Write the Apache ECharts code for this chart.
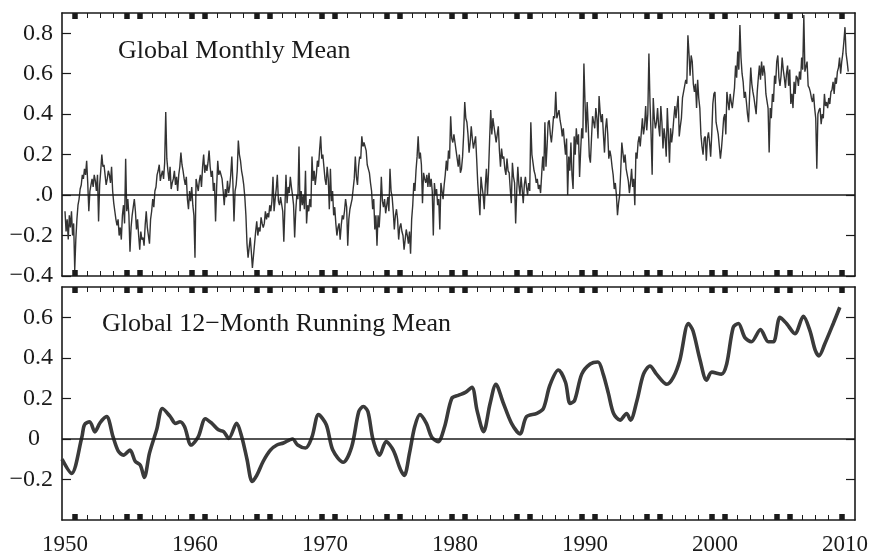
<!DOCTYPE html>
<html>
<head>
<meta charset="utf-8">
<script src="https://cdn.jsdelivr.net/npm/echarts@6/dist/echarts.min.js"></script>
<style>
  html, body { margin: 0; padding: 0; background: #fff; }
  #chart { width: 873px; height: 556px; }
</style>
</head>
<body>
<div id="chart"></div>
<script>
// Global monthly mean temperature anomaly (°C), January 1950 onward, one row per year
const anom1950s = [
  -0.08, -0.18, -0.12, -0.22, -0.10, -0.16, -0.08, -0.20, -0.14, -0.37, -0.22, -0.12,
  -0.05, -0.02, 0.03, 0.05, 0.10, 0.08, 0.13, 0.10, 0.17, 0.06, -0.08, 0.02,
  0.05, 0.08, 0.04, 0.10, 0.07, 0.02, 0.10, -0.13, 0.05, 0.12, 0.20, 0.14,
  0.15, 0.10, 0.05, 0.08, 0.12, 0.10, 0.06, 0.14, 0.02, -0.04, -0.08, -0.12,
  -0.15, -0.12, -0.20, -0.16, -0.22, -0.10, -0.05, -0.14, 0.18, -0.08, -0.02, -0.10,
  -0.28, -0.16, -0.10, -0.06, -0.02, -0.08, -0.17, -0.12, -0.20, -0.27, -0.18, -0.22,
  -0.21, -0.25, -0.15, -0.08, -0.16, -0.20, -0.24, -0.12, -0.08, -0.02, -0.06, 0.02,
  0.04, 0.10, 0.12, 0.15, 0.07, 0.10, 0.12, 0.08, 0.16, 0.41, 0.18, 0.12,
  0.07, 0.14, 0.03, 0.06, 0.08, 0.12, 0.05, 0.09, 0.02, 0.10, 0.14, 0.21,
  0.15, 0.12, 0.08, 0.05, 0.09, -0.02, -0.07, 0.02, -0.03, 0.04, -0.05, -0.10
];
const anom1960s = [
  -0.31, 0.08, 0.05, 0.02, 0.07, 0.10, 0.04, 0.14, 0.20, 0.11, 0.15, 0.12,
  0.16, 0.22, 0.14, 0.09, 0.12, 0.02, 0.06, -0.13, 0.04, 0.17, 0.10, 0.12,
  0.12, 0.08, 0.02, -0.05, 0.03, -0.01, 0.07, 0.01, 0.04, 0.10, 0.19, 0.06,
  -0.13, 0.02, 0.05, 0.12, 0.27, 0.20, 0.17, 0.12, 0.09, 0.05, -0.01, -0.10,
  -0.24, -0.31, -0.26, -0.21, -0.28, -0.36, -0.30, -0.24, -0.18, -0.13, -0.20, -0.16,
  -0.18, -0.11, -0.14, -0.16, -0.14, -0.08, -0.12, -0.09, -0.11, -0.05, -0.08, -0.03,
  0.09, -0.08, -0.02, 0.03, 0.10, -0.03, -0.05, -0.01, -0.01, -0.08, -0.23, -0.06,
  0.10, -0.04, 0.04, 0.01, 0.09, 0.04, 0.00, -0.05, -0.21, -0.08, 0.00, -0.02,
  0.24, -0.08, 0.02, -0.05, 0.00, -0.07, 0.12, -0.14, -0.05, -0.08, -0.02, -0.06,
  0.19, 0.07, 0.12, 0.05, 0.10, 0.17, 0.14, 0.22, 0.29, 0.18, 0.20, 0.14
];
const anom1970s = [
  0.08, 0.05, 0.14, 0.08, -0.07, 0.13, -0.03, 0.02, -0.10, -0.06, -0.14, -0.20,
  -0.16, -0.14, -0.22, -0.15, -0.10, -0.12, -0.08, -0.02, -0.06, -0.25, -0.12, -0.07,
  -0.07, -0.02, 0.03, 0.08, 0.19, 0.09, 0.05, 0.14, 0.19, 0.18, 0.29, 0.24,
  0.26, 0.24, 0.22, 0.15, 0.15, 0.11, 0.06, 0.02, -0.07, -0.02, -0.17, -0.10,
  -0.25, -0.10, -0.16, -0.07, 0.09, -0.03, -0.06, -0.02, -0.09, -0.05, -0.01, -0.08,
  0.13, 0.02, -0.01, -0.08, -0.17, -0.10, -0.07, -0.12, -0.22, -0.16, -0.14, -0.18,
  -0.20, -0.27, -0.22, -0.17, -0.20, -0.24, -0.18, -0.29, -0.12, -0.05, 0.06, 0.02,
  0.12, 0.19, 0.29, 0.18, 0.21, 0.15, -0.04, 0.11, 0.08, 0.06, 0.10, 0.04,
  0.11, 0.04, 0.08, 0.02, -0.20, 0.06, 0.00, 0.03, -0.05, -0.02, -0.17, 0.06,
  0.02, -0.02, 0.05, 0.10, 0.17, 0.12, 0.22, 0.18, 0.39, 0.28, 0.26, 0.30
];
const anom1980s = [
  0.26, 0.22, 0.18, 0.14, 0.20, 0.11, 0.13, 0.19, 0.30, 0.46, 0.38, 0.36,
  0.30, 0.21, 0.26, 0.34, 0.28, 0.23, 0.26, 0.29, 0.18, 0.06, -0.02, -0.10,
  0.09, 0.04, 0.00, -0.07, 0.05, 0.13, 0.00, 0.12, 0.28, 0.42, 0.30, 0.38,
  0.34, 0.30, 0.26, 0.30, 0.34, 0.22, 0.14, 0.23, 0.18, 0.19, 0.13, 0.10,
  0.18, 0.12, 0.11, 0.03, -0.04, 0.16, 0.09, 0.06, -0.14, 0.02, 0.14, 0.05,
  0.00, 0.09, 0.03, -0.04, 0.05, 0.09, 0.04, 0.00, 0.06, 0.02, 0.36, 0.20,
  0.16, 0.12, 0.10, 0.06, 0.08, 0.03, 0.05, 0.01, 0.10, 0.19, 0.12, 0.36,
  0.14, 0.24, 0.36, 0.37, 0.30, 0.26, 0.32, 0.39, 0.38, 0.51, 0.38, 0.40,
  0.42, 0.37, 0.34, 0.29, 0.33, 0.26, 0.20, 0.28, 0.00, 0.19, 0.12, 0.26,
  0.10, 0.03, 0.29, 0.20, 0.33, 0.25, 0.30, 0.09, 0.22, 0.33, 0.28, 0.65
];
const anom1990s = [
  0.46, 0.31, 0.46, 0.34, 0.19, 0.16, 0.28, 0.39, 0.36, 0.33, 0.43, 0.38,
  0.28, 0.49, 0.41, 0.36, 0.40, 0.30, 0.21, 0.33, 0.38, 0.30, 0.18, 0.22,
  0.19, 0.14, 0.10, 0.03, 0.06, 0.00, -0.10, -0.04, 0.00, 0.12, 0.26, 0.26,
  0.16, 0.20, 0.13, 0.10, 0.07, 0.01, 0.06, 0.13, 0.04, 0.08, -0.05, 0.21,
  0.18, 0.26, 0.29, 0.24, 0.31, 0.38, 0.30, 0.34, 0.44, 0.32, 0.40, 0.70,
  0.46, 0.30, 0.10, 0.48, 0.38, 0.33, 0.36, 0.43, 0.34, 0.29, 0.44, 0.36,
  0.23, 0.33, 0.28, 0.19, 0.43, 0.30, 0.16, 0.33, 0.26, 0.31, 0.38, 0.44,
  0.38, 0.44, 0.49, 0.29, 0.34, 0.38, 0.48, 0.48, 0.54, 0.57, 0.55, 0.79,
  0.70, 0.59, 0.69, 0.66, 0.55, 0.51, 0.55, 0.43, 0.57, 0.48, 0.43, 0.30,
  0.24, 0.20, 0.28, 0.29, 0.17, 0.28, 0.31, 0.26, 0.19, 0.30, 0.45, 0.50
];
const anom2000s = [
  0.51, 0.36, 0.33, 0.30, 0.24, 0.18, 0.23, 0.30, 0.38, 0.40, 0.30, 0.51,
  0.46, 0.42, 0.50, 0.46, 0.43, 0.48, 0.53, 0.64, 0.58, 0.71, 0.62, 0.84,
  0.68, 0.60, 0.56, 0.48, 0.51, 0.46, 0.40, 0.36, 0.50, 0.63, 0.55, 0.51,
  0.48, 0.44, 0.40, 0.51, 0.58, 0.64, 0.57, 0.66, 0.59, 0.64, 0.60, 0.50,
  0.50, 0.43, 0.21, 0.43, 0.38, 0.50, 0.46, 0.59, 0.55, 0.66, 0.69, 0.58,
  0.54, 0.59, 0.68, 0.62, 0.58, 0.53, 0.60, 0.64, 0.54, 0.62, 0.45, 0.50,
  0.43, 0.56, 0.50, 0.59, 0.58, 0.54, 0.61, 0.57, 0.68, 0.62, 0.89, 0.61,
  0.61, 0.66, 0.54, 0.53, 0.51, 0.48, 0.46, 0.50, 0.43, 0.38, 0.13, 0.40,
  0.42, 0.43, 0.35, 0.40, 0.38, 0.50, 0.44, 0.46, 0.43, 0.48, 0.45, 0.51,
  0.52, 0.56, 0.50, 0.58, 0.55, 0.61, 0.63, 0.68, 0.60, 0.66, 0.70, 0.76
];
const anom2010s = [0.83, 0.70, 0.66, 0.61];

// 12-month running mean (°C): sample times (decimal years) and values
const runYears = [
  1949.77, 1950.5, 1951.3, 1951.5, 1951.9, 1952.3, 1952.7, 1953.2, 1953.7, 1954.1,
  1954.5, 1955.0, 1955.4, 1955.8, 1956.1, 1956.5, 1957.05, 1957.5, 1958.1, 1958.5,
  1958.85, 1959.2, 1959.7, 1960.25, 1960.8, 1961.3, 1961.8, 1962.2, 1962.6, 1963.2,
  1963.6, 1964.0, 1964.4, 1964.75, 1965.25, 1965.8, 1966.3, 1966.8, 1967.5, 1967.9,
  1968.5, 1969.0, 1969.5, 1970.1, 1970.6, 1971.4, 1972.05, 1972.6, 1972.95, 1973.3,
  1973.7, 1974.2, 1974.7, 1975.25, 1975.8, 1976.1, 1976.5, 1976.9, 1977.3, 1977.8,
  1978.2, 1978.7, 1979.2, 1979.75, 1980.25, 1980.8, 1981.3, 1981.7, 1982.2, 1982.7,
  1983.15, 1983.7, 1984.35, 1985.0, 1985.5, 1986.3, 1986.8, 1987.3, 1987.95, 1988.5,
  1988.85, 1989.2, 1989.75, 1990.4, 1991.0, 1991.4, 1991.8, 1992.2, 1992.7, 1993.2,
  1993.5, 1994.0, 1994.5, 1995.0, 1995.5, 1996.3, 1996.8, 1997.3, 1997.95, 1998.3,
  1998.85, 1999.35, 1999.75, 2000.5, 2000.9, 2001.4, 2001.8, 2002.3, 2002.8, 2003.5,
  2004.1, 2004.5, 2005.0, 2005.5, 2006.15, 2006.8, 2007.3, 2007.7, 2008.0, 2008.45,
  2009.1, 2009.6
];
const runValues = [
  -0.10, -0.17, 0.01, 0.07, 0.085, 0.035, 0.08, 0.11, 0.01, -0.06,
  -0.08, -0.055, -0.11, -0.13, -0.19, -0.07, 0.045, 0.15, 0.11, 0.077,
  0.085, 0.06, -0.03, 0.01, 0.10, 0.077, 0.045, 0.036, 0.003, 0.077,
  0.01, -0.10, -0.21, -0.18, -0.11, -0.055, -0.03, -0.02, 0.00, -0.03,
  -0.045, 0.01, 0.12, 0.07, -0.055, -0.115, -0.04, 0.135, 0.16, 0.135,
  -0.005, -0.08, -0.013, -0.055, -0.15, -0.18, -0.07, 0.06, 0.12, 0.077,
  0.01, -0.013, 0.06, 0.20, 0.215, 0.23, 0.255, 0.14, 0.036, 0.175,
  0.27, 0.18, 0.077, 0.025, 0.11, 0.126, 0.15, 0.265, 0.34, 0.28,
  0.175, 0.19, 0.32, 0.37, 0.38, 0.32, 0.225, 0.126, 0.093, 0.126,
  0.093, 0.19, 0.32, 0.36, 0.32, 0.27, 0.305, 0.39, 0.57, 0.535,
  0.39, 0.29, 0.33, 0.32, 0.37, 0.55, 0.57, 0.50, 0.48, 0.54,
  0.48, 0.48, 0.60, 0.57, 0.52, 0.605, 0.535, 0.44, 0.41, 0.47,
  0.57, 0.65
];

// Axis ticks and labels
const decadeLabels = [1950, 1960, 1970, 1980, 1990, 2000, 2010];
const topTickValues = [-0.4, -0.2, 0, 0.2, 0.4, 0.6, 0.8];
const topTickLabels = ['\u22120.4', '\u22120.2', '.0', '0.2', '0.4', '0.6', '0.8'];
const bottomTickValues = [-0.2, 0, 0.2, 0.4, 0.6];
const bottomTickLabels = ['\u22120.2', '{z|0}', '0.2', '0.4', '0.6'];

const X_MIN = 1949.77, X_MAX = 2010.77;
const SERIF = '"Liberation Serif", "DejaVu Serif", serif';
const INK = '#1a1a1a';

const monthly = [].concat(anom1950s, anom1960s, anom1970s, anom1980s, anom1990s, anom2000s, anom2010s);
const monthlyData = monthly.map((v, i) => [1950 + i / 12, v]);
const runData = runYears.map((t, i) => [t, runValues[i]]);

// yearly frame ticks; heavy marks on the years either side of each half decade
const thinTicks = [], thickTicks = [];
for (let y = 1949; y <= 2010; y++) {
  const p = y + 0.72;
  if (p < X_MIN || p > 2010.5) continue;
  if (y % 5 === 0 || y % 5 === 4) thickTicks.push(p); else thinTicks.push(p);
}

function labelFor(values, labels) {
  return function (v) {
    for (let i = 0; i < values.length; i++) if (Math.abs(values[i] - v) < 1e-6) return labels[i];
    return '';
  };
}

function xAxesFor(g, withLabels) {
  const base = { type: 'value', gridIndex: g, min: X_MIN, max: X_MAX, splitLine: { show: false } };
  const frame = { show: true, onZero: false, lineStyle: { color: INK, width: 1.6 } };
  const hidden = { show: false, onZero: false };
  const thin = { show: true, inside: true, length: 5, customValues: thinTicks, lineStyle: { color: INK, width: 1 } };
  const thick = { show: true, inside: true, length: 6, customValues: thickTicks, lineStyle: { color: INK, width: 5.5 } };
  const labels = withLabels
    ? { show: true, customValues: decadeLabels, margin: 13, color: INK, fontFamily: SERIF, fontSize: 23, formatter: v => String(Math.round(v)) }
    : { show: false };
  return [
    Object.assign({}, base, { position: 'bottom', axisLine: frame, axisTick: thin, axisLabel: labels }),
    Object.assign({}, base, { position: 'top', axisLine: frame, axisTick: thin, axisLabel: { show: false } }),
    Object.assign({}, base, { position: 'bottom', axisLine: hidden, axisTick: thick, axisLabel: { show: false } }),
    Object.assign({}, base, { position: 'top', axisLine: hidden, axisTick: thick, axisLabel: { show: false } })
  ];
}

function yAxesFor(g, min, max, values, labels) {
  const base = { type: 'value', gridIndex: g, min: min, max: max, splitLine: { show: false },
    axisLine: { show: true, onZero: false, lineStyle: { color: INK, width: 1.6 } },
    axisTick: { show: true, inside: true, length: 9, customValues: values, lineStyle: { color: INK, width: 1.2 } } };
  return [
    Object.assign({}, base, { position: 'left', axisLabel: {
      show: true, customValues: values, margin: 9, color: INK, fontFamily: SERIF, fontSize: 24,
      formatter: labelFor(values, labels),
      rich: { z: { padding: [0, 13, 0, 0], color: INK, fontFamily: SERIF, fontSize: 24 } }
    } }),
    Object.assign({}, base, { position: 'right', axisLabel: { show: false } })
  ];
}

const zeroLine = {
  silent: true, symbol: ['none', 'none'], label: { show: false },
  lineStyle: { type: 'solid', color: INK, width: 1.5 },
  data: [{ yAxis: 0 }], animation: false
};

const chart = echarts.init(document.getElementById('chart'), null, { renderer: 'canvas' });
chart.setOption({
  animation: false,
  backgroundColor: '#ffffff',
  grid: [
    { left: 62, top: 13, width: 793, height: 263 },
    { left: 62, top: 287, width: 793, height: 234 }
  ],
  xAxis: [].concat(xAxesFor(0, false), xAxesFor(1, true)),
  yAxis: [].concat(
    yAxesFor(0, -0.4, 0.9, topTickValues, topTickLabels),
    yAxesFor(1, -0.4, 0.75, bottomTickValues, bottomTickLabels)
  ),
  graphic: [
    { type: 'text', left: 118, top: 38, style: { text: 'Global Monthly Mean', font: '26px ' + SERIF, fill: INK } },
    { type: 'text', left: 102, top: 311, style: { text: 'Global 12\u2212Month Running Mean', font: '26px ' + SERIF, fill: INK } }
  ],
  series: [
    {
      name: 'Global Monthly Mean', type: 'line', xAxisIndex: 0, yAxisIndex: 0,
      data: monthlyData, symbol: 'none', showSymbol: false,
      lineStyle: { color: '#333333', width: 1.4 }, markLine: zeroLine, z: 3
    },
    {
      name: 'Global 12-Month Running Mean', type: 'line', xAxisIndex: 4, yAxisIndex: 2,
      data: runData, symbol: 'none', showSymbol: false, smooth: 0.3,
      lineStyle: { color: '#3a3a3a', width: 3.6 }, markLine: zeroLine, z: 3
    }
  ]
});
</script>
</body>
</html>
